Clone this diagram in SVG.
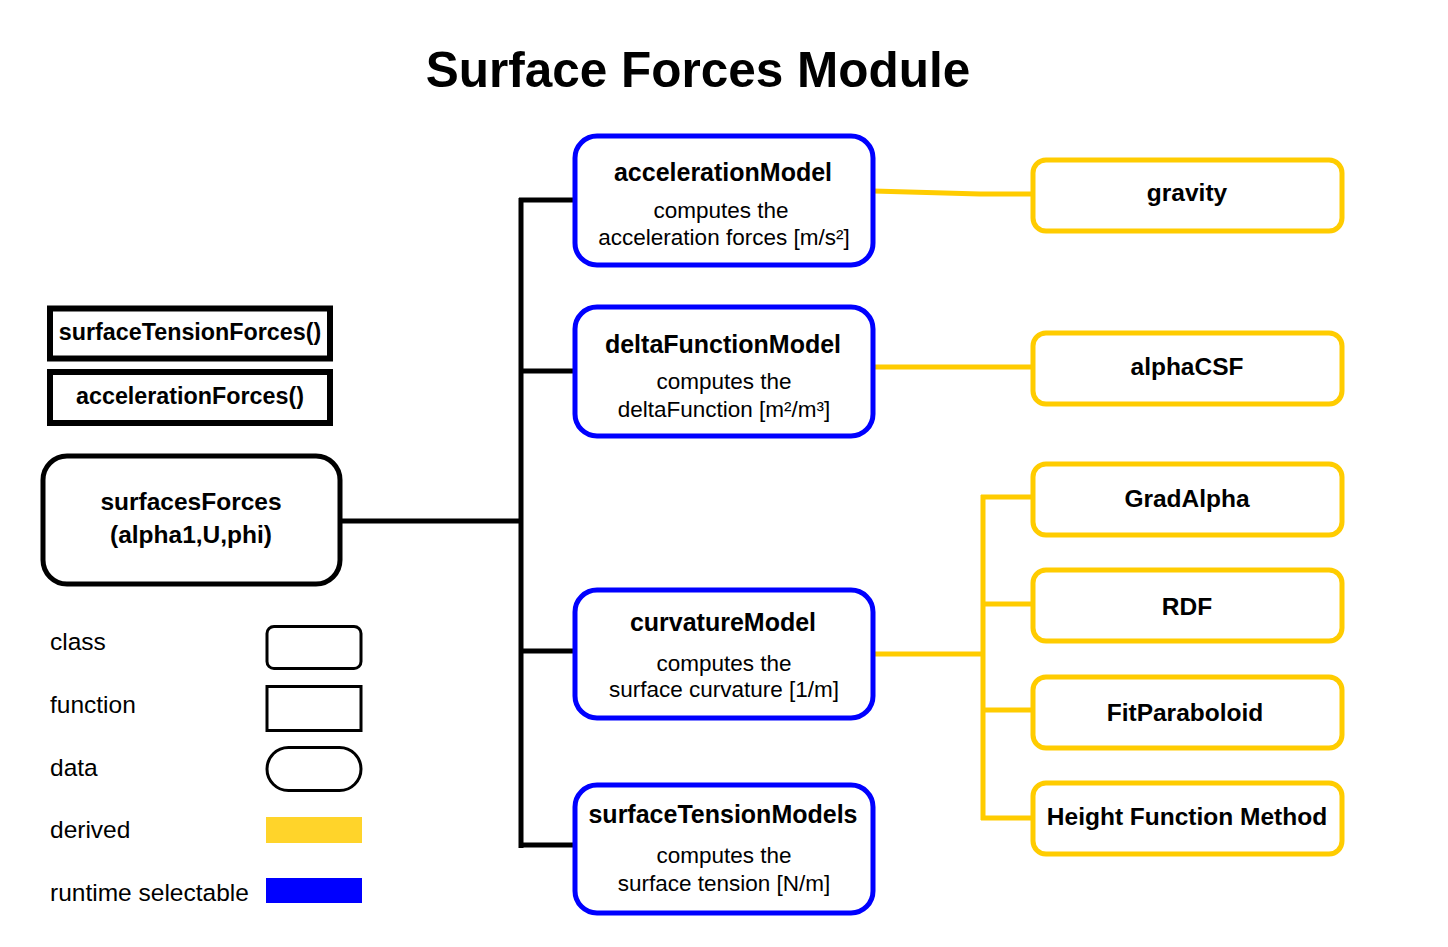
<svg xmlns="http://www.w3.org/2000/svg" width="1448" height="947" viewBox="0 0 1448 947">
<style>
text{font-family:"Liberation Sans",Arial,sans-serif;fill:#000;text-anchor:middle}
.title{font-size:49.5px;font-weight:bold}
.b{font-size:24.5px;font-weight:bold}
.bt{font-size:25px;font-weight:bold}
.f{font-size:23.3px;font-weight:bold}
.n{font-size:22.5px}
.leg{font-size:24.5px;text-anchor:start}
.fn{fill:#fff;stroke:#000;stroke-width:6}
.cls{fill:#fff;stroke:#000;stroke-width:5}
.rt{fill:#fff;stroke:#0000ff;stroke-width:5}
.dv{fill:#fff;stroke:#ffcc00;stroke-width:5}
.bl{fill:none;stroke:#000;stroke-width:5}
.yl{fill:none;stroke:#ffcc00;stroke-width:5}
</style>
<rect width="1448" height="947" fill="#fff"/>
<text class="title" x="698" y="87">Surface Forces Module</text>

<g id="connectors">
<path class="bl" d="M340 521 H521 M521 198 V848 M519 200 H575 M519 371 H575 M519 651 H575 M519 845 H575"/>
<path class="yl" d="M873 191 L980 194 H1033"/>
<path class="yl" d="M873 367 H1033"/>
<path class="yl" d="M873 654 H983 M983 495 V820 M981 497 H1033 M981 604 H1033 M981 710 H1033 M981 818 H1033"/>
</g>

<g id="surfaceTensionForces"><rect class="fn" x="50" y="308.5" width="280" height="50"/><text class="f" x="190" y="340">surfaceTensionForces()</text></g>
<g id="accelerationForces"><rect class="fn" x="50" y="372" width="280" height="51"/><text class="f" x="190" y="404">accelerationForces()</text></g>
<g id="surfacesForces"><rect class="cls" x="43" y="456" width="297" height="128" rx="24"/><text class="b" x="191" y="510">surfacesForces</text><text class="b" x="191" y="543">(alpha1,U,phi)</text></g>

<g id="accelerationModel"><rect class="rt" x="575" y="136" width="298" height="129" rx="22"/><text class="bt" x="723" y="181">accelerationModel</text><text class="n" x="721" y="218">computes the</text><text class="n" x="724" y="245">acceleration forces [m/s²]</text></g>
<g id="deltaFunctionModel"><rect class="rt" x="575" y="307" width="298" height="129" rx="22"/><text class="bt" x="723" y="353">deltaFunctionModel</text><text class="n" x="724" y="389">computes the</text><text class="n" x="724" y="417">deltaFunction [m²/m³]</text></g>
<g id="curvatureModel"><rect class="rt" x="575" y="590" width="298" height="128" rx="22"/><text class="bt" x="723" y="631">curvatureModel</text><text class="n" x="724" y="671">computes the</text><text class="n" x="724" y="697">surface curvature [1/m]</text></g>
<g id="surfaceTensionModels"><rect class="rt" x="575" y="785" width="298" height="128" rx="22"/><text class="bt" x="723" y="823">surfaceTensionModels</text><text class="n" x="724" y="863">computes the</text><text class="n" x="724" y="891">surface tension [N/m]</text></g>

<g id="gravity"><rect class="dv" x="1033" y="160" width="309" height="71" rx="13"/><text class="b" x="1187" y="201">gravity</text></g>
<g id="alphaCSF"><rect class="dv" x="1033" y="333" width="309" height="71" rx="13"/><text class="b" x="1187" y="375">alphaCSF</text></g>
<g id="GradAlpha"><rect class="dv" x="1033" y="464" width="309" height="71" rx="13"/><text class="b" x="1187" y="507">GradAlpha</text></g>
<g id="RDF"><rect class="dv" x="1033" y="570" width="309" height="71" rx="13"/><text class="b" x="1187" y="615">RDF</text></g>
<g id="FitParaboloid"><rect class="dv" x="1033" y="677" width="309" height="71" rx="13"/><text class="b" x="1185" y="721">FitParaboloid</text></g>
<g id="HeightFunctionMethod"><rect class="dv" x="1033" y="783" width="309" height="71" rx="13"/><text class="b" x="1187" y="825">Height Function Method</text></g>

<g id="legend">
<text class="leg" x="50" y="650">class</text>
<text class="leg" x="50" y="713">function</text>
<text class="leg" x="50" y="776">data</text>
<text class="leg" x="50" y="838">derived</text>
<text class="leg" x="50" y="901">runtime selectable</text>
<rect x="267" y="626.5" width="94" height="42" rx="7" fill="#fff" stroke="#000" stroke-width="3"/>
<rect x="267" y="686.5" width="94" height="44" fill="#fff" stroke="#000" stroke-width="3"/>
<rect x="267" y="747.5" width="94" height="43" rx="21.5" fill="#fff" stroke="#000" stroke-width="3"/>
<rect x="266" y="817" width="96" height="26" fill="#ffd42a"/>
<rect x="266" y="878" width="96" height="25" fill="#0000ff"/>
</g>
</svg>
